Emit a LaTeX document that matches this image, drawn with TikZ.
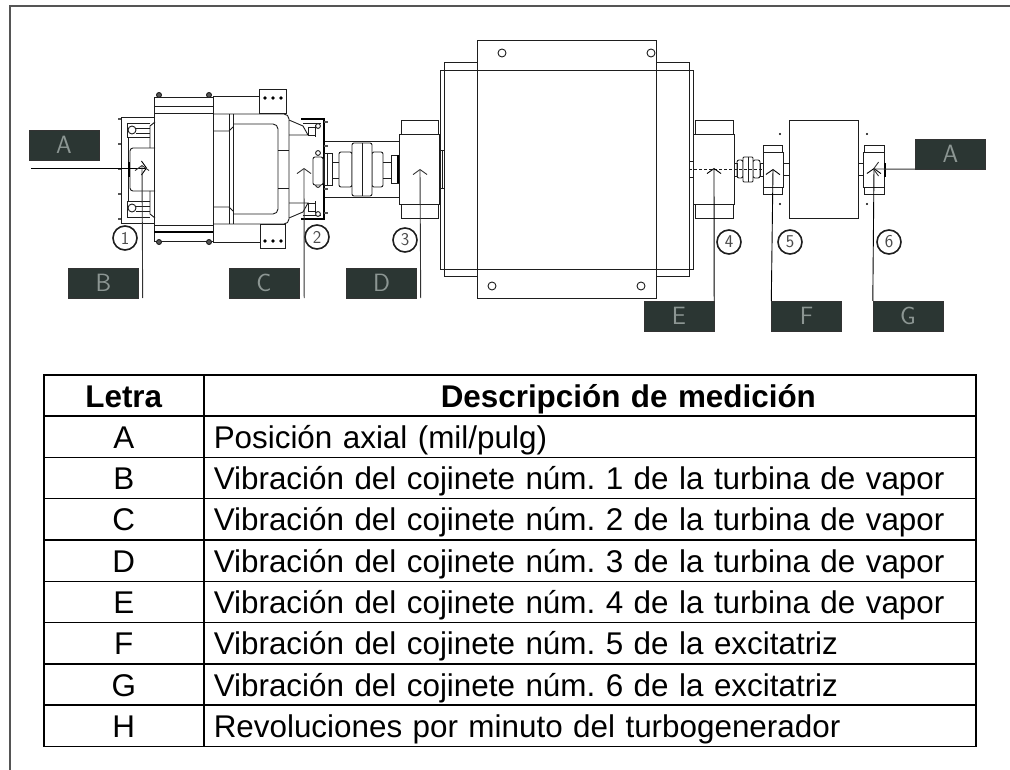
\documentclass[tikz,border=0pt]{standalone}
\usepackage{fontspec}
\setmainfont{Liberation Sans}
\usepackage{tikz}
\usetikzlibrary{arrows.meta,positioning}
\usepackage{xcolor}
\definecolor{tmframe}{RGB}{85,85,85}
\definecolor{tmline}{RGB}{30,30,30}
\definecolor{tmtag}{RGB}{43,54,51}
\definecolor{tmtagtext}{RGB}{140,150,147}
\definecolor{tmlead}{RGB}{50,50,50}
\tikzstyle{pieza} = [draw=tmline, line width=0.9pt]
\tikzstyle{grueso} = [draw=black, line width=1.2pt]
\tikzstyle{etiqueta} = [rectangle, minimum width=70pt, minimum height=30pt, inner sep=0pt, text centered, draw=black!80, fill=tmtag, text=tmtagtext, font=\sffamily\fontsize{25}{25}\selectfont]
\tikzstyle{numero} = [circle, minimum size=24pt, inner sep=0pt, draw=tmline, line width=1.6pt, fill=white, text=tmline!80, font=\sffamily\fontsize{18}{18}\selectfont]
\tikzstyle{flecha} = [draw=tmlead, line width=0.9pt, ->, >={Straight Barb[length=5pt,width=14pt,line width=0.9pt]}]
\tikzstyle{celda} = [rectangle, draw=black, line width=1.5pt, anchor=north west, minimum height=41.3pt, inner sep=0pt, inner xsep=10pt, text height=26.5pt, text depth=3.2pt, font=\fontsize{31.4}{36}\selectfont\frenchspacing]
\tikzstyle{letra} = [celda, text width=140pt, align=center]
\tikzstyle{desc} = [celda, text width=752pt, align=left]

\begin{document}
\begin{tikzpicture}[x=1pt,y=-1pt]
\useasboundingbox (0,0) rectangle (1010,770);

% Frame
\draw[draw=tmframe, line width=1.8pt] (10,770) -- (10,6) -- (1010,6);

% Bearing 1 pedestal
\draw[pieza] (155,117) -- (121,117) -- (121,223) -- (155,223);
\draw[pieza] (150,123) -- (127,123) -- (127,137) -- (150,137);
\draw[pieza] (150,201) -- (127,201) -- (127,217) -- (150,217);
\draw[pieza] (128,137) -- (128,201);
\draw[pieza] (150,126) -- (150,148) (155,122) -- (150,126);
\draw[pieza] (150,191) -- (150,214) (155,218) -- (150,214);
\draw[pieza, rounded corners=3pt] (155,148) -- (130,148) -- (130,191) -- (155,191);
\draw[pieza] (136,128) -- (150,128) (136,133) -- (150,133);
\draw[pieza] (136,206) -- (150,206) (136,211) -- (150,211);
\draw[pieza, fill=white] (132,130) circle (4pt);
\draw[pieza, fill=white] (132,208) circle (4pt);
\foreach \y in {119,144,169,194,219}
  \draw[draw=tmframe, line width=1.6pt] (118,\y) -- (121,\y);
\draw[draw=black, line width=1.4pt] (129,162) -- (129,177);

% Turbine casing
\draw[pieza] (154,97) rectangle (213,241);
\draw[pieza] (154,106) -- (213,106);
\draw[pieza] (154,113) -- (213,113);
\draw[pieza] (154,225) -- (213,225);
\draw[grueso] (154,232) -- (213,232);
\foreach \x in {159,209}{
  \draw[pieza, fill=tmframe] (\x,95) circle (2.5pt);
  \draw[pieza, fill=tmframe] (\x,242) circle (2.5pt);
}

% Turbine rear section
\draw[pieza, rounded corners=5pt] (213,114) -- (289,114) -- (289,224) -- (213,224);
\draw[pieza] (229,114) -- (229,224) (233,114) -- (233,224);
\draw[pieza] (213,131) -- (229,131) -- (233,127);
\draw[pieza] (213,207) -- (229,207) -- (233,211);
\draw[pieza, rounded corners=5pt] (233,124) -- (278,124) -- (278,214) -- (233,214);
\draw[pieza] (278,150) -- (289,150) (278,188) -- (289,188);

% Terminal boxes
\draw[pieza, fill=white] (259,89) rectangle (286,113);
\draw[pieza, fill=white] (260,224) rectangle (285,248);
\draw[pieza] (213,96) -- (259,96) (213,242) -- (260,242);
\foreach \x in {265,273,281}{
  \fill[black] (\x,98) circle (1.9pt);
  \fill[black] (\x,241) circle (1.9pt);
}

% Bearing 2 pedestal
\draw[pieza] (289,120) -- (303,126) -- (308,135) -- (289,135);
\draw[pieza] (289,218) -- (303,212) -- (308,203) -- (289,203);
\draw[grueso] (301,119) -- (324,119) -- (324,219) -- (301,219);
\draw[pieza] (303,123) -- (321,123) (303,215) -- (321,215);
\draw[pieza] (308,127) rectangle (315,135);
\draw[pieza] (308,203) rectangle (315,211);
\draw[pieza] (315,125) -- (315,137) (315,201) -- (315,213);
\foreach \y in {126,153,185,214}
  \draw[pieza, fill=white] (318,\y) circle (2.4pt);
\foreach \y in {122,146,189,213}
  \draw[draw=tmframe, line width=1.4pt] (324,\y) -- (328,\y);

% Shaft and coupling
\draw[pieza] (325,141) -- (399,141) (325,197) -- (399,197);
\draw[pieza, rounded corners=2pt, fill=white] (313,157) rectangle (323,185);
\draw[pieza, fill=white] (324,153) rectangle (332,185);
\draw[pieza] (327,153) -- (327,185);
\draw[pieza] (332,162) -- (339,162) (332,178) -- (339,178);
\draw[pieza, rounded corners=2pt] (339,152) rectangle (352,187);
\draw[pieza, rounded corners=2pt, fill=white] (372,152) rectangle (383,187);
\draw[pieza, rounded corners=2pt, fill=white] (352,143) rectangle (372,196);
\draw[pieza] (362,143) -- (362,196);
\draw[pieza] (383,162) -- (391,162) (383,178) -- (391,178);
\draw[pieza] (391,155) rectangle (398,183);
\draw[draw=black, line width=2pt] (398,155) -- (398,183);

% Bearing 3
\draw[pieza] (401,120) rectangle (438,134);
\draw[pieza] (401,204) rectangle (438,218);
\draw[pieza] (399,134) rectangle (439,204);
\draw[pieza] (439,150) rectangle (444,188);
\draw[pieza] (442,150) -- (442,188);

% Generator
\draw[pieza] (444,62) rectangle (689,276);
\draw[pieza] (440,70) rectangle (693,269);
\draw[pieza, fill=white] (477,40) rectangle (656,298);
\draw[pieza] (477,70) -- (656,70) (477,269) -- (656,269);
\foreach \x/\y in {502/53,651/53,492/286,641/286}
  \draw[pieza, fill=white] (\x,\y) circle (4pt);

% Bearing 4
\draw[pieza] (695,120) rectangle (733,134);
\draw[pieza] (695,204) rectangle (733,218);
\draw[pieza] (693,134) rectangle (734,204);
\draw[pieza] (689,161) rectangle (693,177);
\draw[pieza] (734,163) rectangle (737,176);
\draw[pieza, rounded corners=2pt] (737,160) rectangle (743,178);
\draw[pieza, rounded corners=2pt] (753,160) rectangle (760,178);
\draw[pieza, rounded corners=1pt, fill=white] (743,157) rectangle (753,182);
\draw[pieza] (748,157) -- (748,182);
\draw[pieza] (760,163) rectangle (763,176);
\draw[pieza, densely dashed] (689,169) -- (763,169);

% Bearing 5 and exciter
\draw[pieza] (763,145) rectangle (782,152);
\draw[pieza] (763,187) rectangle (782,194);
\draw[pieza] (763,152) rectangle (783,187);
\draw[pieza] (783,163) rectangle (789,175);
\draw[pieza] (789,120) rectangle (858,218);
\draw[pieza] (858,163) rectangle (863,175);
\foreach \x/\y in {780/134,780/204,867/134,867/204}
  \fill[black] (\x,\y) circle (1.2pt);

% Bearing 6
\draw[pieza] (864,145) rectangle (884,152);
\draw[pieza] (864,187) rectangle (884,194);
\draw[pieza] (863,152) rectangle (884,187);
\draw[draw=black, line width=1.4pt] (885,163) -- (885,177);

% Tags
\node (tagAizq) [etiqueta] at (64,145) {A};
\node (tagB) [etiqueta] at (103.5,283) {B};
\node (tagC) [etiqueta] at (264,283) {C};
\node (tagD) [etiqueta] at (381.5,283) {D};
\node (tagE) [etiqueta] at (679,316) {E};
\node (tagF) [etiqueta] at (806.5,316) {F};
\node (tagG) [etiqueta] at (908,316) {G};
\node (tagAder) [etiqueta] at (950.5,154) {A};

% Bearing numbers
\node (num1) [numero] at (125,238) {1};
\node (num2) [numero] at (317,237) {2};
\node (num3) [numero] at (405,240) {3};
\node (num4) [numero] at (729,242) {4};
\node (num5) [numero] at (790,242) {5};
\node (num6) [numero] at (889,242) {6};

% Sensor leaders
\coordinate (inicioA) at (31,168);
\coordinate (puntaA) at (147,168);
\coordinate (puntaB) at (142,165);
\coordinate (puntaC) at (304,168);
\coordinate (puntaD) at (420,169);
\coordinate (puntaE) at (714,168);
\coordinate (puntaF) at (773,169);
\coordinate (puntaG) at (874,168);
\coordinate (puntaH) at (873,169);
\draw[flecha, draw=black] (inicioA) -- (puntaA);
\draw[flecha] ([xshift=4pt]tagB.south east) -- (puntaB);
\draw[flecha] ([xshift=5pt]tagC.south east) -- (puntaC);
\draw[flecha] ([xshift=4pt]tagD.south east) -- (puntaD);
\draw[flecha, draw=black] (tagE.north east) -- (puntaE);
\draw[flecha, draw=black] (tagF.north west) -- (puntaF);
\draw[flecha, draw=black] (tagG.north west) -- (puntaG);
\draw[flecha] (tagAder.south west) -- (puntaH);

% Table
\node (letra0) [letra, font=\bfseries\fontsize{31.4}{36}\selectfont] at (43,374) {Letra};
\node (desc0) [desc, font=\bfseries\fontsize{31.4}{36}\selectfont] at (203,374) {\hspace*{227pt}Descripción de medición};
\foreach \n/\y/\l/\d in {
  1/415.3/A/{Posición axial (mil/pulg)},
  2/456.6/B/{Vibración del cojinete núm. 1 de la turbina de vapor},
  3/497.9/C/{Vibración del cojinete núm. 2 de la turbina de vapor},
  4/539.2/D/{Vibración del cojinete núm. 3 de la turbina de vapor},
  5/580.5/E/{Vibración del cojinete núm. 4 de la turbina de vapor},
  6/621.8/F/{Vibración del cojinete núm. 5 de la excitatriz},
  7/663.1/G/{Vibración del cojinete núm. 6 de la excitatriz},
  8/704.4/H/{Revoluciones por minuto del turbogenerador}}{
  \node (letra\n) [letra] at (43,\y) {\l};
  \node (desc\n) [desc] at (203,\y) {\d};
}
\end{tikzpicture}
\end{document}
